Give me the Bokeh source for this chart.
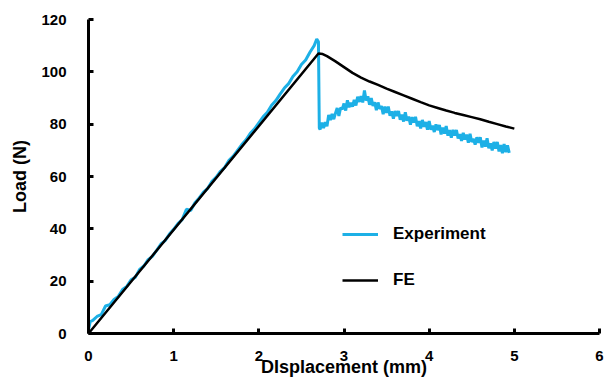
from bokeh.plotting import figure
from bokeh.models import FixedTicker, Legend, LegendItem, Range1d
from bokeh.embed import file_html
from bokeh.resources import INLINE

# Experiment (pre-peak)
exp_x_pre = [0.00, 0.02, 0.05, 0.10, 0.15, 0.20, 0.25, 0.30, 0.35, 0.40, 0.45, 0.50, 0.55, 0.60,
             0.65, 0.70, 0.75, 0.80, 0.85, 0.90, 0.95, 1.00, 1.05, 1.10, 1.15, 1.20, 1.25, 1.30,
             1.35, 1.40, 1.45, 1.50, 1.55, 1.60, 1.65, 1.70, 1.75, 1.80, 1.85, 1.90, 1.95, 2.00,
             2.05, 2.10, 2.15, 2.20, 2.25, 2.30, 2.35, 2.40, 2.45, 2.50, 2.55, 2.60, 2.65, 2.68,
             2.70, 2.71]
exp_y_pre = [1.5, 4.5, 5.0, 6.5, 7.2, 10.5, 11.0, 13.0, 14.2, 16.8, 18.0, 20.5, 21.5, 24.5,
             25.8, 28.2, 29.5, 31.8, 34.2, 35.5, 38.0, 39.8, 42.0, 43.5, 47.5, 47.0, 50.0, 51.8,
             54.0, 55.5, 58.2, 59.8, 62.0, 63.5, 66.2, 67.8, 70.0, 72.2, 74.0, 76.5, 78.2, 80.5,
             82.8, 84.5, 87.2, 89.0, 91.5, 93.8, 95.5, 98.2, 100.0, 102.8, 104.5, 107.5, 110.0, 112.5,
             111.5, 78.5]
# Experiment (post-peak)
exp_x_post = [2.72, 2.74, 2.76, 2.78, 2.80, 2.82, 2.84, 2.86, 2.88, 2.90, 2.92, 2.94, 2.96, 2.98,
              3.00, 3.02, 3.04, 3.06, 3.08, 3.10, 3.12, 3.14, 3.16, 3.18, 3.20, 3.22, 3.24, 3.26,
              3.28, 3.30, 3.32, 3.34, 3.36, 3.38, 3.40, 3.42, 3.44, 3.46, 3.48, 3.50, 3.52, 3.54,
              3.56, 3.58, 3.60, 3.62, 3.64, 3.66, 3.68, 3.70, 3.72, 3.74, 3.76, 3.78, 3.80, 3.82,
              3.84, 3.86, 3.88, 3.90, 3.92, 3.94, 3.96, 3.98, 4.00, 4.02, 4.04, 4.06, 4.08, 4.10,
              4.12, 4.14, 4.16, 4.18, 4.20, 4.22, 4.24, 4.26, 4.28, 4.30, 4.32, 4.34, 4.36, 4.38,
              4.40, 4.42, 4.44, 4.46, 4.48, 4.50, 4.52, 4.54, 4.56, 4.58, 4.60, 4.62, 4.64, 4.66,
              4.68, 4.70, 4.72, 4.74, 4.76, 4.78, 4.80, 4.82, 4.84, 4.86, 4.88, 4.90, 4.92, 4.94]
exp_y_post = [78.0, 80.6, 78.5, 80.8, 79.2, 83.5, 81.6, 83.9, 81.9, 84.2, 86.2, 83.1, 86.3, 85.7,
              87.9, 85.2, 89.1, 86.5, 88.2, 86.7, 89.3, 87.1, 90.5, 88.5, 90.7, 88.3, 92.9, 89.0,
              90.7, 87.4, 90.0, 87.0, 88.4, 85.3, 88.3, 85.8, 86.9, 83.8, 86.7, 84.3, 86.7, 83.2,
              84.9, 82.1, 85.0, 83.1, 85.0, 81.7, 83.7, 81.0, 84.5, 81.3, 82.9, 79.8, 82.7, 80.6,
              82.8, 79.2, 81.2, 78.4, 81.6, 79.0, 80.8, 77.9, 81.2, 77.9, 79.4, 77.0, 79.9, 77.7,
              79.7, 76.1, 78.7, 76.4, 79.3, 75.6, 77.7, 74.8, 77.8, 75.6, 77.8, 74.5, 76.2, 73.6,
              76.7, 74.1, 76.0, 72.9, 76.3, 73.2, 74.4, 72.2, 75.0, 72.9, 75.0, 71.1, 73.7, 71.4,
              74.6, 70.8, 72.7, 70.0, 73.2, 70.7, 73.2, 69.6, 72.0, 68.9, 72.4, 69.3, 71.9, 69.0]

# FE
fe_x = [0.0, 2.70, 2.75, 2.80, 2.90, 3.00, 3.10, 3.20, 3.30, 3.40, 3.50, 3.60, 3.70, 3.80,
        3.90, 4.00, 4.10, 4.20, 4.30, 4.40, 4.50, 4.60, 4.70, 4.80, 4.90, 5.00]
fe_y = [0.0, 107.0, 106.8, 106.0, 104.0, 101.8, 99.6, 97.8, 96.3, 95.0, 93.6, 92.3, 91.0, 89.7,
        88.4, 87.2, 86.2, 85.2, 84.3, 83.5, 82.7, 81.9, 80.9, 80.0, 79.1, 78.3]

x_ticks = [0, 1, 2, 3, 4, 5, 6]
y_ticks = [0, 20, 40, 60, 80, 100, 120]

BLUE = "#1DB0E6"

p = figure(width=605, height=386, output_backend="svg", toolbar_location=None,
           x_range=Range1d(0, 6), y_range=Range1d(0, 120),
           min_border_left=88, min_border_right=6, min_border_top=19, min_border_bottom=53)
p.outline_line_color = None
p.xgrid.visible = False
p.ygrid.visible = False

exp_x = exp_x_pre + exp_x_post
exp_y = exp_y_pre + exp_y_post
r_exp = p.line(exp_x, exp_y, line_color=BLUE, line_width=3)
r_fe = p.line(fe_x, fe_y, line_color="black", line_width=2.5)

for axs in (p.xaxis, p.yaxis):
    axs.axis_line_width = 3
    axs.axis_line_color = "black"
    axs.major_tick_line_width = 3
    axs.major_tick_line_color = "black"
    axs.major_tick_in = 5
    axs.major_tick_out = 0
    axs.minor_tick_line_color = None
    axs.major_label_text_font_style = "bold"
    axs.major_label_text_font_size = "15px"
    axs.major_label_text_color = "black"
    axs.axis_label_text_font_style = "bold"
    axs.axis_label_text_font_size = "18px"
    axs.axis_label_text_color = "black"

p.xaxis.ticker = FixedTicker(ticks=x_ticks)
p.yaxis.ticker = FixedTicker(ticks=y_ticks)
p.xaxis.axis_label = "DIsplacement (mm)"
p.yaxis.axis_label = "Load (N)"
p.xaxis.major_label_standoff = 17
p.yaxis.major_label_standoff = 22
p.xaxis.axis_label_standoff = -7
p.yaxis.axis_label_standoff = 8

legend = Legend(items=[LegendItem(label="Experiment", renderers=[r_exp]),
                       LegendItem(label="FE", renderers=[r_fe])],
                location=(254, 43), orientation="vertical")
legend.border_line_color = None
legend.background_fill_alpha = 0
legend.margin = 0
legend.padding = 0
legend.spacing = 26
legend.glyph_width = 36
legend.glyph_height = 20
legend.label_standoff = 15
legend.label_text_font_style = "bold"
legend.label_text_font_size = "17px"
legend.label_text_color = "black"
p.add_layout(legend)

open("out.html", "w").write(file_html(p, INLINE))
